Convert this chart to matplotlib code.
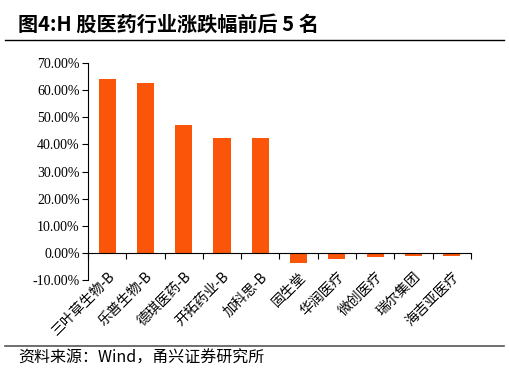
import matplotlib.pyplot as plt
from matplotlib.ticker import FuncFormatter, MultipleLocator
import numpy as np

names = ["三叶草生物-B", "乐普生物-B", "德琪医药-B", "开拓药业-B", "加科思-B",
         "固生堂", "华润医疗", "微创医疗", "瑞尔集团", "海吉亚医疗"]
changes = [64.2, 62.5, 47.3, 42.2, 42.2, -3.6, -2.3, -1.4, -1.0, -1.1]

bar_color = "#FA5508"
cjk = ["Noto Sans CJK SC", "DejaVu Sans"]
serif = ["Liberation Serif", "Noto Sans CJK SC"]


def main():
    fig = plt.figure(figsize=(5.09, 3.73), dpi=100)
    ax = fig.add_axes([0.173, 0.249, 0.752, 0.582])

    x = np.arange(len(names))
    ax.bar(x, changes, width=0.45, color=bar_color, zorder=2)

    ax.set_xlim(-0.5, len(names) - 0.5)
    ax.set_ylim(-10, 70)
    ax.yaxis.set_major_locator(MultipleLocator(10))
    ax.yaxis.set_major_formatter(FuncFormatter(lambda v, p: "%.2f%%" % v))
    for lab in ax.get_yticklabels():
        lab.set_family(serif)
        lab.set_fontsize(10)

    for s in ["top", "right"]:
        ax.spines[s].set_visible(False)
    ax.spines["bottom"].set_position(("data", 0))
    ax.spines["left"].set_linewidth(0.8)
    ax.spines["bottom"].set_linewidth(0.8)

    ax.tick_params(axis="y", direction="out", length=4, width=0.8, pad=2)
    ax.set_xticks(x)
    ax.set_xticks(np.arange(-0.5, len(names) + 0.5, 1), minor=True)
    ax.tick_params(axis="x", which="major", length=0, pad=12)
    ax.tick_params(axis="x", which="minor", direction="out", length=4, width=0.8)
    ax.set_xticklabels(names, rotation=45, ha="right", rotation_mode="anchor",
                       family=cjk, fontsize=10)

    # title and frame lines
    fig.text(0.035, 0.935, "图4:H 股医药行业涨跌幅前后 5 名", family=cjk,
             fontsize=14.5, fontweight="bold", va="center", ha="left")
    fig.add_artist(plt.Line2D([0.01, 0.99], [0.893, 0.893], color="black", lw=1.0))
    fig.add_artist(plt.Line2D([0.01, 0.99], [0.072, 0.072], color="#555555", lw=1.2))
    fig.text(0.035, 0.04, "资料来源：Wind，甬兴证券研究所", family=cjk,
             fontsize=11.5, style="italic", va="center", ha="left")

    fig.savefig("out.png", dpi=100)


if __name__ == "__main__":
    main()
